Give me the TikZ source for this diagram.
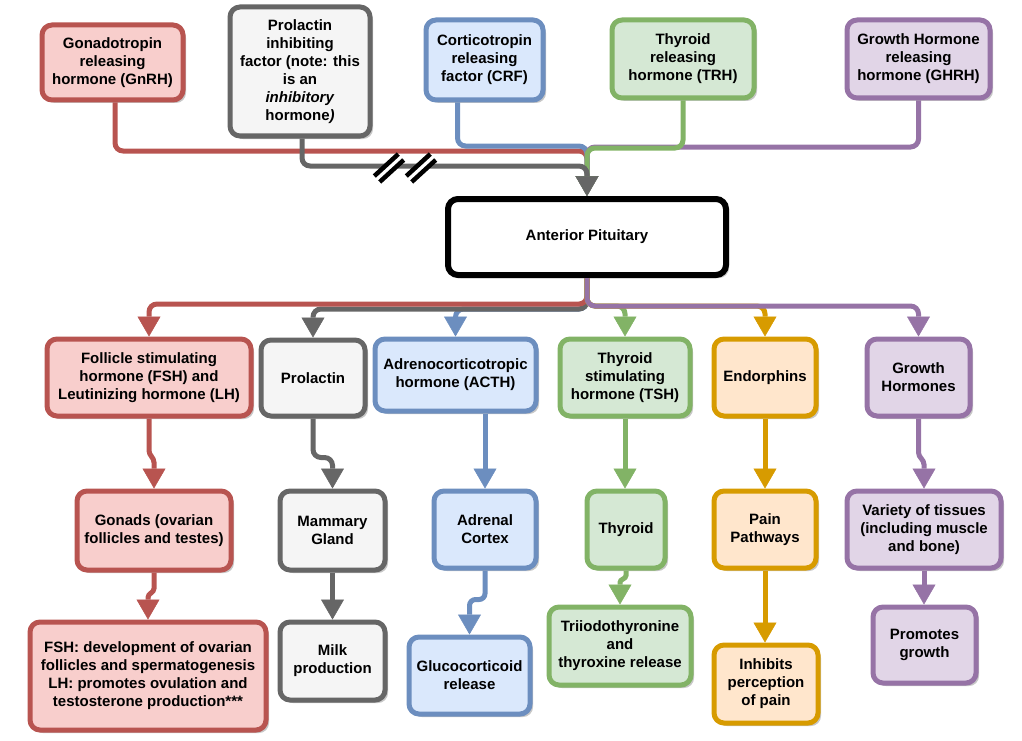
\documentclass[tikz,border=0pt]{standalone}
\usepackage{fontspec}
\setmainfont{Liberation Sans}
\usetikzlibrary{arrows.meta,shadows,calc}
\definecolor{redF}{HTML}{F8CECC}\definecolor{redS}{HTML}{B85450}
\definecolor{grayF}{HTML}{F5F5F5}\definecolor{grayS}{HTML}{666666}
\definecolor{blueF}{HTML}{DAE8FC}\definecolor{blueS}{HTML}{6C8EBF}
\definecolor{greenF}{HTML}{D5E8D4}\definecolor{greenS}{HTML}{82B366}
\definecolor{orF}{HTML}{FFE6CC}\definecolor{orS}{HTML}{D79B00}
\definecolor{purF}{HTML}{E1D5E7}\definecolor{purS}{HTML}{9673A6}
\begin{document}
\begin{tikzpicture}[x=1pt,y=-1pt,
  box/.style={rectangle, rounded corners=10pt, line width=5pt, align=center, inner sep=2pt,
    font=\fontsize{15}{18}\selectfont\bfseries, text=black,
    drop shadow={shadow xshift=3pt,shadow yshift=-3pt,fill=black,opacity=0.22}},
  rbox/.style={box,draw=redS,fill=redF},
  gbox/.style={box,draw=grayS,fill=grayF},
  bbox/.style={box,draw=blueS,fill=blueF},
  grbox/.style={box,draw=greenS,fill=greenF},
  obox/.style={box,draw=orS,fill=orF},
  pbox/.style={box,draw=purS,fill=purF},
  sz/.style 2 args={minimum width=#1,minimum height=#2},
  conn/.style={draw=#1, line width=5pt, rounded corners=8pt,
    -{Triangle[width=23pt,length=20pt,line width=0.5pt]}},
  sconn/.style={draw=#1, line width=5pt, sharp corners,
    -{Triangle[width=23pt,length=20pt,line width=0.5pt]}}]
\useasboundingbox (0,0) rectangle (1022,741);

% top row
\node[rbox,sz={141}{75}] (GnRH) at (112.5,62.5) {Gonadotropin\\releasing\\hormone (GnRH)};
\node[gbox,sz={140}{129}] (PIF) at (300,71.5) {Prolactin\\inhibiting\\factor (note: this\\is an\\\textit{inhibitory}\\hormone\textit{)}};
\node[bbox,sz={117}{80}] (CRF) at (484.5,60) {Corticotropin\\releasing\\factor (CRF)};
\node[grbox,sz={142}{78}] (TRH) at (683,59) {Thyroid\\releasing\\hormone (TRH)};
\node[pbox,sz={143}{78}] (GHRH) at (918.5,59) {Growth Hormone\\releasing\\hormone (GHRH)};

\node[box,draw=black,fill=white,line width=6pt,sz={278}{76}] (AP) at (587,237) {Anterior Pituitary};

% second row
\node[rbox,sz={204}{77}] (FSH) at (149,377.5) {Follicle stimulating\\hormone (FSH) and\\Leutinizing hormone (LH)};
\node[gbox,sz={104}{76}] (PRL) at (313,378) {Prolactin};
\node[bbox,sz={161}{72}] (ACTH) at (455.5,375) {Adrenocorticotropic\\hormone (ACTH)};
\node[grbox,sz={130}{77}] (TSH) at (625,377.5) {Thyroid\\stimulating\\hormone (TSH)};
\node[obox,sz={102}{77}] (END) at (765,377.5) {Endorphins};
\node[pbox,sz={103}{77}] (GH) at (918.5,377.5) {Growth\\Hormones};

% third row
\node[rbox,sz={154}{79}] (GON) at (154,530.5) {Gonads (ovarian\\follicles and testes)};
\node[gbox,sz={105}{79}] (MAM) at (332.5,530.5) {Mammary\\Gland};
\node[bbox,sz={102}{77}] (ADR) at (485,529.5) {Adrenal\\Cortex};
\node[grbox,sz={78}{77}] (THY) at (626,529.5) {Thyroid};
\node[obox,sz={102}{77}] (PAIN) at (765,529.5) {Pain\\Pathways};
\node[pbox,sz={154}{77}] (VAR) at (924,529.5) {Variety of tissues\\(including muscle\\and bone)};

% fourth row
\node[rbox,sz={236}{108}] (FSHD) at (148,676) {FSH: development of ovarian\\follicles and spermatogenesis\\LH: promotes ovulation and\\testosterone production***};
\node[gbox,sz={105}{78}] (MILK) at (332.5,661) {Milk\\production};
\node[bbox,sz={121}{77}] (GLU) at (469.5,675.5) {Glucocorticoid\\release};
\node[grbox,sz={142}{78}] (T3) at (620,646) {Triiodothyronine\\and\\thyroxine release};
\node[obox,sz={104}{78}] (INH) at (766,684) {Inhibits\\perception\\of pain};
\node[pbox,sz={103}{76}] (PROM) at (924.5,645) {Promotes\\growth};

% top connectors
\draw[conn=redS] ([xshift=2.5pt]GnRH.south) |- ([yshift=45pt]AP.north) -- (AP.north);
\draw[conn=blueS] ([xshift=-27pt]CRF.south) |- ([yshift=50pt]AP.north) -- (AP.north);
\draw[conn=purS] (GHRH.south) |- ([yshift=49pt]AP.north) -- (AP.north);
\draw[conn=greenS] (TRH.south) |- ([yshift=48pt]AP.north) -- (AP.north);
\draw[conn=grayS] ([xshift=2pt]PIF.south) |- ([yshift=30pt]AP.north) -- (AP.north);

% inhibition marks on the prolactin inhibiting factor line
\coordinate (h1) at (389,168);
\coordinate (h2) at (421,168);
\foreach \h in {h1,h2}{
  \draw[white,line width=6pt] ([shift={(-12,11)}]\h) -- ([shift={(12,-11)}]\h);
  \draw[black,line width=4.5pt] ([shift={(-14.7,8.05)}]\h) -- ([shift={(9.3,-13.95)}]\h);
  \draw[black,line width=4.5pt] ([shift={(-9.3,13.95)}]\h) -- ([shift={(14.7,-8.05)}]\h);
}

% anterior pituitary to second row
\draw[conn=blueS] (AP.south) -- ([yshift=-31pt]AP.south) -| (ACTH.north);
\draw[conn=grayS] (AP.south) -- ([yshift=-31pt]AP.south) -| (PRL.north);
\draw[conn=redS] (AP.south) -- ([yshift=-26pt]AP.south) -| (FSH.north);
\draw[conn=greenS] (AP.south) -- ([yshift=-28pt]AP.south) -| (TSH.north);
\draw[conn=orS] (AP.south) -- ([yshift=-28pt]AP.south) -| (END.north);
\draw[conn=purS] (AP.south) -- ([yshift=-28pt]AP.south) -| (GH.north);

% second row to third row
\draw[sconn=redS] (FSH.south) -- ++(0,32) to[out=-90,in=90] ($(GON.north)+(0,-26)$) -- (GON.north);
\draw[conn=grayS] (PRL.south) -- ([yshift=-39pt]PRL.south) -| (MAM.north);
\draw[conn=blueS] (ACTH.south -| ADR.north) -- (ADR.north);
\draw[conn=greenS] (TSH.south) -- (TSH.south |- THY.north);
\draw[conn=orS] (END.south) -- (PAIN.north);
\draw[sconn=purS] (GH.south) -- ++(0,34) to[out=-90,in=90] ($(VAR.north)+(0,-24)$) -- (VAR.north);

% third row to fourth row
\draw[sconn=redS] (GON.south) -- ++(0,16) to[out=-90,in=90] ($(FSHD.north)+(0,-22)$) -- (FSHD.north);
\draw[conn=grayS] (MAM.south) -- (MILK.north);
\draw[conn=blueS,rounded corners=6pt] (ADR.south) -- ([yshift=-29pt]ADR.south) -| (GLU.north);
\draw[sconn=greenS] (THY.south) -- ++(0,5) to[out=-90,in=90] ($(T3.north)+(0,-22)$) -- (T3.north);
\draw[conn=orS] (PAIN.south) -- (PAIN.south |- INH.north);
\draw[conn=purS] (VAR.south) -- (VAR.south |- PROM.north);
\end{tikzpicture}
\end{document}
